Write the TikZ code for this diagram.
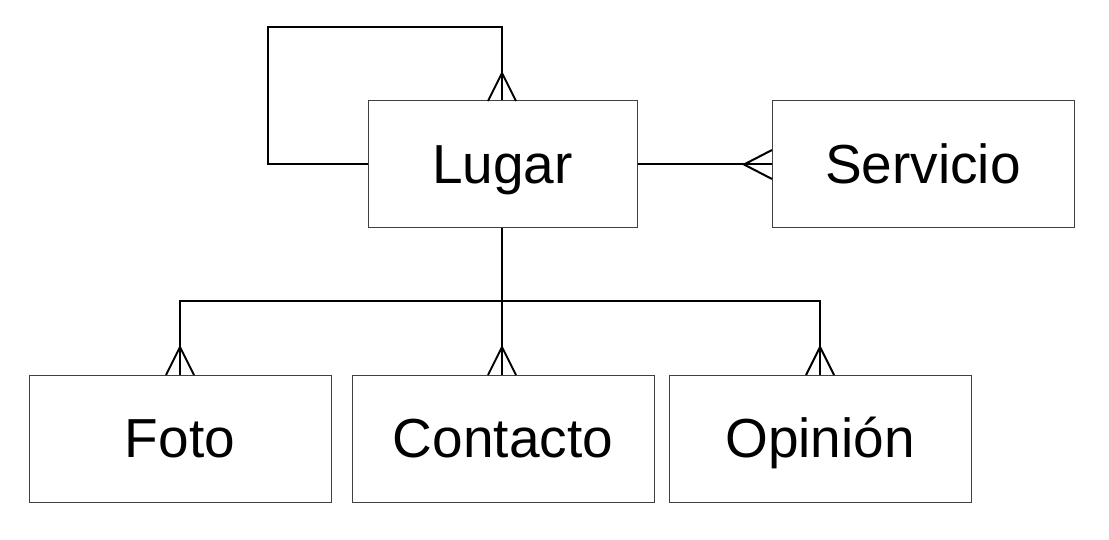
\documentclass[tikz,border=0pt]{standalone}
\usepackage{fontspec}
\setmainfont{Liberation Sans}
\begin{document}
\begin{tikzpicture}[x=1pt,y=-1pt,
  entity/.style={draw=black!75,line width=1pt,minimum width=#1,minimum height=127pt,inner sep=0pt,text height=40pt,text depth=2pt,font=\fontsize{55}{60}\selectfont},
  rel/.style={line width=2pt,line join=miter},
  foot/.style={line width=2pt}]
\useasboundingbox (0,0) rectangle (1109,540);
\node[entity=269pt] (lugar) at (502.5,164.5) {Lugar};
\node[entity=302pt] (serv) at (923,164.5) {Servicio};
\node[entity=302pt] (foto) at (180,438.5) {Foto};
\node[entity=302pt] (cont) at (503,438.5) {Contacto};
\node[entity=302pt] (opin) at (820,438.5) {Opinión};
% self loop
\coordinate (l1) at (268,164);
\coordinate (l2) at (268,27);
\coordinate (l3) at (502,27);
\draw[rel] (lugar.west |- l1) -- (l1) -- (l2) -- (l3) -- (l3 |- lugar.north);
\draw[foot] (488,101) -- (502,73) -- (516,101);
% servicio
\draw[rel] (lugar.east) -- (serv.west);
\draw[foot] (772,150) -- (744,164.5) -- (772,179);
% bottom tree
\coordinate (j) at (502,301);
\coordinate (jl) at (180,301);
\coordinate (jr) at (820,301);
\draw[rel] (j |- lugar.south) -- (j);
\draw[rel] (jl |- foto.north) -- (jl) -- (jr) -- (jr |- opin.north);
\draw[rel] (j) -- (j |- cont.north);
\draw[foot] (166,375) -- (180,347) -- (194,375);
\draw[foot] (488,375) -- (502,347) -- (516,375);
\draw[foot] (806,375) -- (820,347) -- (834,375);
\end{tikzpicture}
\end{document}
